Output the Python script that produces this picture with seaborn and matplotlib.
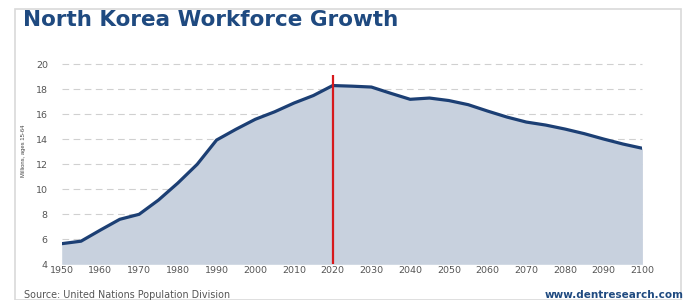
import matplotlib
matplotlib.use("Agg")
import matplotlib.pyplot as plt
import seaborn as sns
import pandas as pd
from matplotlib.patches import Rectangle

years = list(range(1950, 2101, 5))
workforce = [5.65, 5.85, 6.74, 7.6, 8.0, 9.14, 10.5, 12.0, 13.94, 14.8, 15.6, 16.2,
             16.9, 17.5, 18.3, 18.25, 18.18, 17.68, 17.2, 17.3, 17.1, 16.77, 16.26,
             15.78, 15.38, 15.14, 14.82, 14.45, 14.02, 13.62, 13.28]
x_ticks = list(range(1950, 2101, 10))
y_ticks = list(range(4, 21, 2))
marker_year = 2020
title = "North Korea Workforce Growth"
y_label = "Millions, ages 15-64"
source = "Source: United Nations Population Division"
site = "www.dentresearch.com"

df = pd.DataFrame({"year": years, "workforce": workforce})

sns.set_style("white")
plt.rcParams['font.family'] = ['DejaVu Sans']

fig = plt.figure(figsize=(6.86, 3.0), dpi=100)
W, H = 686, 300
ax = fig.add_axes([61.7 / W, (H - 264.3) / H, 580.7 / W, 200 / H])

navy = "#1c3f74"
ax.fill_between(df["year"], df["workforce"], 4, color="#c8d1de", lw=0, zorder=1)
sns.lineplot(data=df, x="year", y="workforce", ax=ax, color=navy, lw=2.3, zorder=3)
ax.vlines(marker_year, 4, 19.17, color="#d7191c", lw=1.6, zorder=4)

ax.set_xlim(1950, 2100)
ax.set_ylim(4, 20)
ax.set_xticks(x_ticks)
ax.set_yticks(y_ticks)
ax.set_xticklabels([str(v) for v in x_ticks])
ax.set_yticklabels([str(v) for v in y_ticks])
for v in y_ticks[1:]:
    ax.axhline(v, color="#d0d0d0", lw=0.8, ls=(0, (6, 4)), zorder=0, clip_on=False)
ax.tick_params(axis="both", length=0, labelsize=6.8, labelcolor="#555555")
ax.tick_params(axis="x", pad=1)
ax.tick_params(axis="y", pad=10)
for s in ax.spines.values():
    s.set_visible(False)
ax.set_xlabel("")
ax.set_ylabel("")
ax.patch.set_alpha(0)

fig.text(24 / W, 1 - 151 / H, y_label, rotation=90, ha="center", va="center",
         fontsize=4.2, color="#444444", family="Liberation Sans")
fig.text(23 / W, 1 - 20 / H, title, ha="left", va="center", fontsize=15.5,
         fontweight="bold", color="#1f4a80")
fig.text(24 / W, 1 - 295 / H, source, ha="left", va="center", fontsize=6.9,
         color="#555555")
fig.text(684 / W, 1 - 295 / H, site, ha="right", va="center", fontsize=7.5,
         fontweight="bold", color="#1f4a80")

fig.patches.append(Rectangle((15 / W, 0), 666 / W, 1 - 9 / H, transform=fig.transFigure,
                             fill=False, ec="#d9d9d9", lw=1.2))

fig.savefig("out.png", dpi=100)
